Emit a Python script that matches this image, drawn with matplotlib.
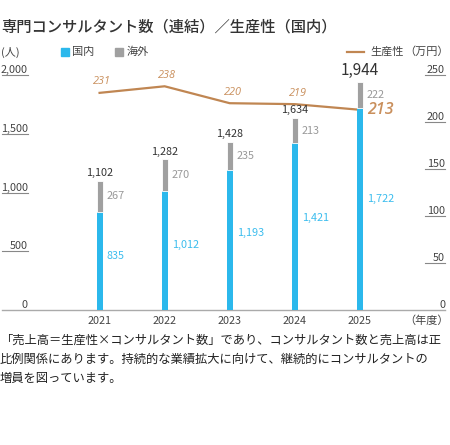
import matplotlib
matplotlib.use("Agg")
import matplotlib.pyplot as plt
from matplotlib.patches import Rectangle
from matplotlib.lines import Line2D

plt.rcParams['font.family'] = ['Noto Sans CJK JP', 'DejaVu Sans']

years = ["2021", "2022", "2023", "2024", "2025"]
domestic = [835, 1012, 1193, 1421, 1722]
overseas = [267, 270, 235, 213, 222]
totals = [1102, 1282, 1428, 1634, 1944]
productivity = [231, 238, 220, 219, 213]

left_ticks = [500, 1000, 1500, 2000]
right_ticks = [50, 100, 150, 200, 250]

BLUE = "#2bb8ec"
GRAY = "#a0a0a0"
ORANGE = "#c08652"
ORANGE_TXT = "#c98f5c"
DARK = "#333333"
NUM = 7.8

W, H = 450, 445
fig = plt.figure(figsize=(W / 100, H / 100), dpi=100)


def px(x, y):
    return x / W, 1 - y / H


x0, x1 = 2, 445
ytop, ybot = 75, 310
ax = fig.add_axes([x0 / W, 1 - ybot / H, (x1 - x0) / W, (ybot - ytop) / H])
ax2 = ax.twinx()

xs = list(range(len(years)))
bw = 0.09
ax.bar(xs, domestic, bw, color=BLUE, zorder=3)
ax.bar(xs, overseas, bw, bottom=domestic, color=GRAY, zorder=3,
       edgecolor="white", linewidth=0.6)
ax.set_xlim(-1.5, 5.31)
ax.set_ylim(0, 2000)
ax2.set_ylim(0, 250)

ax2.plot(xs, productivity, color=ORANGE, lw=1.6, zorder=1)

for a in (ax, ax2):
    for s in ("top", "left", "right"):
        a.spines[s].set_visible(False)
    a.set_yticks([])
    a.patch.set_visible(False)
ax.spines["bottom"].set_color("#aaaaaa")
ax.spines["bottom"].set_linewidth(1.0)
ax2.spines["bottom"].set_visible(False)
ax.set_zorder(2)
ax2.set_zorder(1)

ax.set_xticks(xs)
ax.set_xticklabels(years, fontsize=NUM, color="#444444")
ax.tick_params(axis="x", length=0, pad=4)

# short tick lines with labels above
ltr = ax.get_yaxis_transform()
for v in left_ticks:
    ax.plot([0, 26 / 443], [v, v], color="#888888", lw=0.8, transform=ltr, clip_on=False)
    ax.text(26 / 443, v, f"{v:,}", transform=ltr, ha="right", va="bottom",
            fontsize=NUM, color="#444444")
ax.text(26 / 443, 0, "0", transform=ltr, ha="right", va="bottom",
        fontsize=NUM, color="#444444")
rtr = ax2.get_yaxis_transform()
for v in right_ticks:
    ax2.plot([423 / 443, 1], [v, v], color="#888888", lw=0.8, transform=rtr, clip_on=False)
    ax2.text(1, v, f"{v}", transform=rtr, ha="right", va="bottom",
             fontsize=NUM, color="#444444")
ax2.text(1, 0, "0", transform=rtr, ha="right", va="bottom",
         fontsize=NUM, color="#444444")

# bar labels
for i in xs:
    last = i == len(xs) - 1
    ax.annotate(f"{totals[i]:,}", (i, totals[i]), xytext=(0, 2), textcoords="offset points",
                ha="center", va="bottom", fontsize=11 if last else NUM, color=DARK,
                annotation_clip=False)
    ax.annotate(f"{overseas[i]}", (i, domestic[i] + overseas[i] / 2), xytext=(5, 0),
                textcoords="offset points", ha="left", va="center", fontsize=NUM, color="#999999")
    ax.annotate(f"{domestic[i]:,}", (i, domestic[i] * 0.55), xytext=(5, 0),
                textcoords="offset points", ha="left", va="center", fontsize=NUM, color="#3cbdee")

# productivity labels (italic)
for i in xs:
    if i == len(xs) - 1:
        ax2.annotate(f"{productivity[i]}", (i, productivity[i]), xytext=(5, 0),
                     textcoords="offset points", ha="left", va="center", fontsize=11.5,
                     family="Open Sans", style="italic", fontweight="semibold",
                     color=ORANGE_TXT, zorder=5)
    else:
        ax2.annotate(f"{productivity[i]}", (i, productivity[i]), xytext=(2, 4),
                     textcoords="offset points", ha="center", va="bottom", fontsize=NUM,
                     family="Open Sans", style="italic", color=ORANGE_TXT)

# title, units, legend
fig.text(*px(1, 27), "専門コンサルタント数（連結）／生産性（国内）", fontsize=11,
         fontweight="medium", color="#333333", va="center", ha="left")
fig.text(*px(1, 52), "(人)", fontsize=8, color="#444444", va="center", ha="left")
fig.text(*px(449, 52), "（万円）", fontsize=8, color="#444444", va="center", ha="right")
fig.text(*px(449, 321), "（年度）", fontsize=8, color="#444444", va="center", ha="right")

fig.patches.append(Rectangle(px(61, 56), 8 / W, 8 / H, transform=fig.transFigure,
                             color=BLUE, figure=fig))
fig.text(*px(72, 52), "国内", fontsize=8, color="#444444", va="center", ha="left")
fig.patches.append(Rectangle(px(115, 56), 8 / W, 8 / H, transform=fig.transFigure,
                             color=GRAY, figure=fig))
fig.text(*px(127, 52), "海外", fontsize=8, color="#444444", va="center", ha="left")
lx0, ly = px(347, 52)
lx1, _ = px(364, 52)
fig.lines.append(Line2D([lx0, lx1], [ly, ly], transform=fig.transFigure,
                        color=ORANGE, lw=1.6, figure=fig))
fig.text(*px(370, 52), "生産性", fontsize=8, color="#444444", va="center", ha="left")

caption = ["「売上高＝生産性×コンサルタント数」であり、コンサルタント数と売上高は正",
           "比例関係にあります。持続的な業績拡大に向けて、継続的にコンサルタントの",
           "増員を図っています。"]
for k, line in enumerate(caption):
    fig.text(*px(0, 340 + 19 * k), line, fontsize=8.85, color="#222222", va="center", ha="left")

fig.savefig("out.png", dpi=100)
